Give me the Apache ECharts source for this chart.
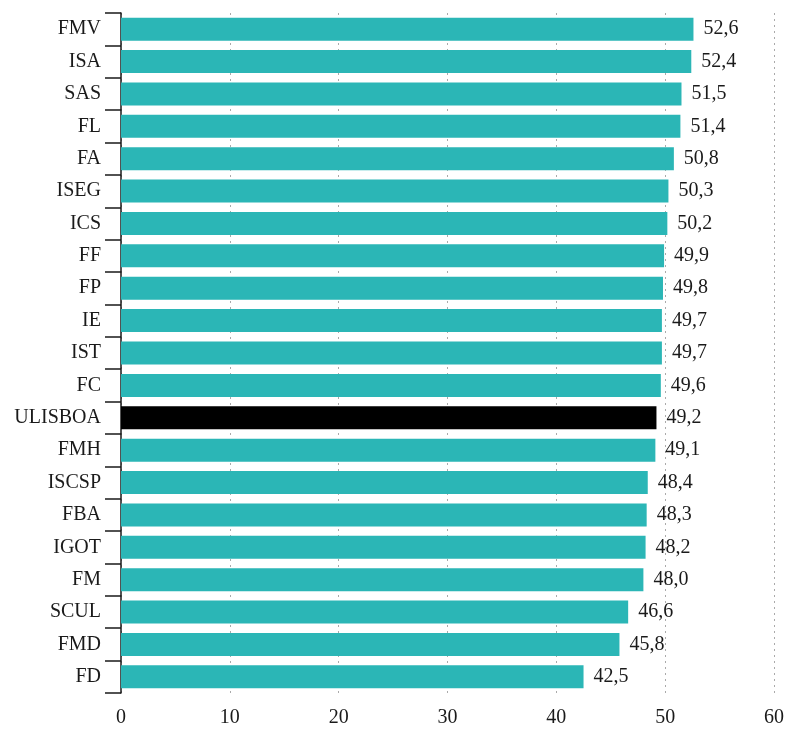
<!DOCTYPE html>
<html>
<head>
<meta charset="utf-8">
<script src="https://cdn.jsdelivr.net/npm/echarts@6/dist/echarts.min.js"></script>
<style>
  html, body { margin: 0; padding: 0; background: #fff; }
  #chart { width: 787px; height: 730px; }
</style>
</head>
<body>
<div id="chart"></div>
<script>
const categories = ['FMV', 'ISA', 'SAS', 'FL', 'FA', 'ISEG', 'ICS', 'FF', 'FP', 'IE', 'IST', 'FC',
  'ULISBOA', 'FMH', 'ISCSP', 'FBA', 'IGOT', 'FM', 'SCUL', 'FMD', 'FD']
const values = [52.6, 52.4, 51.5, 51.4, 50.8, 50.3, 50.2, 49.9, 49.8, 49.7, 49.7, 49.6,
  49.2, 49.1, 48.4, 48.3, 48.2, 48.0, 46.6, 45.8, 42.5]
const highlight = 'ULISBOA'

const teal = '#2bb6b6'
const font = '"Liberation Serif", "Times New Roman", serif'

const chart = echarts.init(document.getElementById('chart'))

const option = {
  animation: false,
  grid: { left: 121, right: 13, top: 13, bottom: 37 },
  xAxis: {
    type: 'value',
    min: 0,
    max: 60,
    interval: 10,
    axisLine: { show: false },
    axisTick: { show: false },
    axisLabel: { color: '#1a1a1a', fontSize: 20, fontFamily: font, margin: 15 },
    splitLine: {
      show: true,
      lineStyle: { color: '#aaa', type: [2, 4], width: 1 }
    }
  },
  yAxis: {
    type: 'category',
    inverse: true,
    data: categories,
    axisLine: { show: true, lineStyle: { color: '#1a1a1a', width: 1.5 } },
    axisTick: { show: true, length: 16, lineStyle: { color: '#1a1a1a', width: 1.5 } },
    axisLabel: { color: '#1a1a1a', fontSize: 20, fontFamily: font, margin: 20 }
  },
  series: [{
    type: 'bar',
    barCategoryGap: '29%',
    data: values.map((v, i) => ({
      value: v,
      itemStyle: { color: categories[i] === highlight ? '#000' : teal }
    })),
    label: {
      show: true,
      position: 'right',
      distance: 10,
      color: '#1a1a1a',
      fontSize: 20,
      fontFamily: font,
      formatter: p => p.value.toFixed(1).replace('.', ',')
    }
  }]
}

chart.setOption(option)
</script>
</body>
</html>
